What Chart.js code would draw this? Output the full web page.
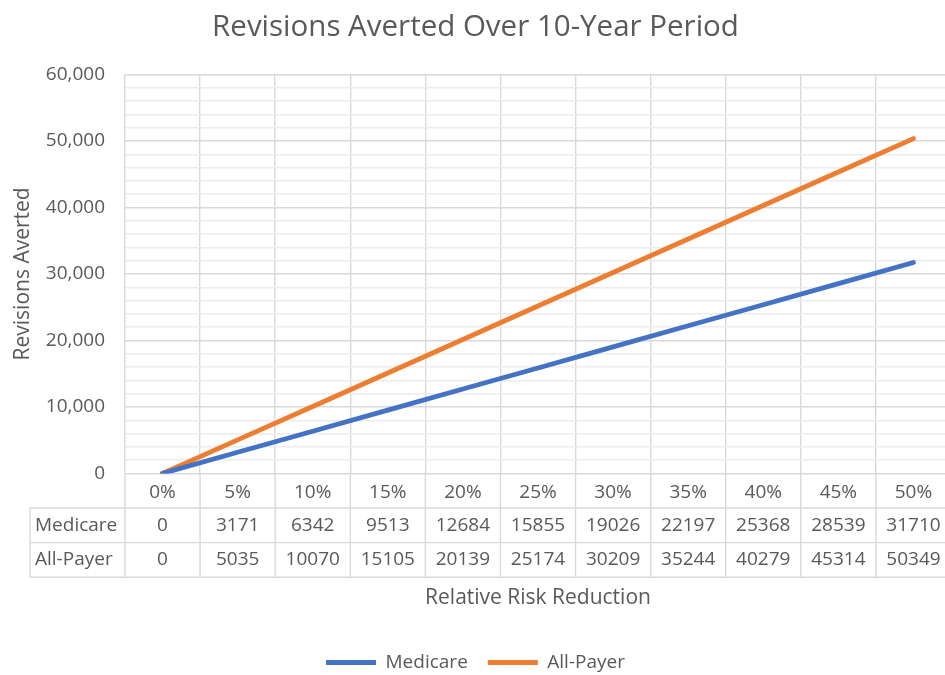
<!DOCTYPE html>
<html>
<head>
<meta charset="utf-8">
<script src="https://cdn.jsdelivr.net/npm/chart.js@4.4.1/dist/chart.umd.min.js"></script>
<style>
  html, body { margin: 0; padding: 0; overflow: hidden; background: #fff; }
  #wrap { width: 951px; height: 682px; position: relative; }
</style>
</head>
<body>
<div id="wrap"><canvas id="chart"></canvas></div>
<script>
// Data.
const categories = ['0%', '5%', '10%', '15%', '20%', '25%', '30%', '35%', '40%', '45%', '50%'];
const medicare = [0, 3171, 6342, 9513, 12684, 15855, 19026, 22197, 25368, 28539, 31710];
const allPayer = [0, 5035, 10070, 15105, 20139, 25174, 30209, 35244, 40279, 45314, 50349];
const seriesNames = ['Medicare', 'All-Payer'];
const yMax = 60000;
const yMajorStep = 10000;
const yMinorStep = 2000;

const textColor = '#595959';
const majorGrid = '#d9d9d9';
const minorGrid = '#ececec';
const fontFamily = '"Open Sans", sans-serif';

// Excel-style data table under the plot.
const dataTable = {
  id: 'dataTable',
  afterDraw(chart) {
    const {ctx, chartArea, scales: {x}} = chart;
    const rowH = 34.6;
    const top = chartArea.bottom;
    const bottom = top + rowH * 3;
    const half = (x.getPixelForValue(1) - x.getPixelForValue(0)) / 2;
    const leftEdge = 30;
    const rows = [[seriesNames[0], medicare], [seriesNames[1], allPayer]];

    ctx.save();
    ctx.strokeStyle = majorGrid;
    ctx.lineWidth = 1.4;
    ctx.beginPath();
    for (let i = 0; i <= categories.length; i++) {
      const px = x.getPixelForValue(0) - half + i * 2 * half;
      ctx.moveTo(px, top);
      ctx.lineTo(px, bottom);
    }
    ctx.moveTo(leftEdge, top + rowH);
    ctx.lineTo(leftEdge, bottom);
    for (let r = 1; r <= 3; r++) {
      ctx.moveTo(leftEdge, top + rowH * r);
      ctx.lineTo(chartArea.right, top + rowH * r);
    }
    ctx.stroke();

    ctx.fillStyle = textColor;
    ctx.font = '19px ' + fontFamily;
    ctx.textBaseline = 'middle';
    rows.forEach(([name, values], r) => {
      const cy = top + rowH * (r + 1.5);
      ctx.textAlign = 'left';
      ctx.fillText(name, 35, cy);
      ctx.textAlign = 'center';
      values.forEach((v, i) => ctx.fillText(String(v), x.getPixelForValue(i), cy));
    });
    ctx.restore();
  }
};

new Chart(document.getElementById('chart'), {
  type: 'line',
  data: {
    labels: categories,
    datasets: [
      {label: seriesNames[0], data: medicare, borderColor: '#4472c4', backgroundColor: '#4472c4'},
      {label: seriesNames[1], data: allPayer, borderColor: '#ed7d31', backgroundColor: '#ed7d31'},
    ],
  },
  options: {
    responsive: true,
    maintainAspectRatio: false,
    animation: false,
    devicePixelRatio: 1,
    layout: {padding: {left: 0, right: 0, top: 0, bottom: 0}},
    elements: {
      line: {borderWidth: 4.8, tension: 0, borderCapStyle: 'round'},
      point: {radius: 0},
    },
    scales: {
      x: {
        offset: true,
        grid: {offset: true, color: majorGrid, lineWidth: 1.4, drawTicks: false},
        border: {display: false},
        ticks: {color: textColor, font: {family: fontFamily, size: 19}, padding: 8, maxRotation: 0},
        title: {
          display: true, text: 'Relative Risk Reduction', color: textColor,
          font: {family: fontFamily, size: 21}, padding: {top: 73.6, bottom: 22},
        },
      },
      y: {
        min: 0,
        max: yMax,
        afterFit: (scale) => { scale.width = 125; },
        grid: {
          drawTicks: false,
          lineWidth: 1.4,
          color: (c) => (c.tick.value % yMajorStep === 0 ? majorGrid : minorGrid),
        },
        border: {display: false},
        ticks: {
          stepSize: yMinorStep,
          autoSkip: false,
          padding: 20,
          color: textColor,
          font: {family: fontFamily, size: 19},
          callback: (v) => (v % yMajorStep === 0 ? v.toLocaleString('en-US') : ''),
        },
        title: {
          display: true, text: 'Revisions Averted', color: textColor,
          font: {family: fontFamily, size: 21}, padding: {top: 10, bottom: 0},
        },
      },
    },
    plugins: {
      title: {
        display: true,
        text: 'Revisions Averted Over 10-Year Period',
        color: textColor,
        font: {family: fontFamily, size: 29.5, weight: 'normal'},
        padding: {top: 10, bottom: 29},
      },
      legend: {
        position: 'bottom',
        labels: {
          color: textColor,
          font: {family: fontFamily, size: 19},
          boxWidth: 50,
          boxHeight: 5,
          padding: 20,
          generateLabels: (chart) => chart.data.datasets.map((ds, i) => ({
            text: ds.label, fillStyle: ds.borderColor, strokeStyle: ds.borderColor,
            lineWidth: 0, datasetIndex: i, fontColor: textColor,
          })),
        },
      },
      tooltip: {enabled: false},
    },
  },
  plugins: [dataTable],
});
</script>
</body>
</html>
